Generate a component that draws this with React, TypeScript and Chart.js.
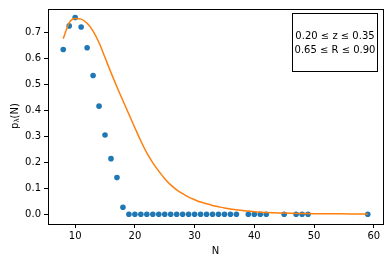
import React, { useEffect, useRef } from "react";
import { Chart, registerables } from "chart.js";

Chart.register(...registerables);

const pointN = [8, 9, 10, 11, 12, 13, 14, 15, 16, 17, 18, 19, 20, 21, 22, 23, 24, 25, 26, 27, 28, 29, 30, 31, 32, 33, 34, 35, 36, 37, 39, 40, 41, 42, 45, 47, 48, 49, 59];
const pointP = [0.634, 0.725, 0.757, 0.721, 0.641, 0.534, 0.416, 0.305, 0.214, 0.141, 0.027, 0, 0, 0, 0, 0, 0, 0, 0, 0, 0, 0, 0, 0, 0, 0, 0, 0, 0, 0, 0, 0, 0, 0, 0, 0, 0, 0, 0];

const curveN = [8, 9, 10, 11, 12, 13, 14, 15, 16, 17, 18, 19, 20, 21, 22, 23, 24, 25, 26, 27, 28, 29, 30, 31, 32, 33, 34, 35, 36, 37, 38, 39, 40, 42, 44, 46, 48, 50, 53, 56, 59];
const curveP = [0.676, 0.737, 0.753, 0.751, 0.735, 0.705, 0.660, 0.603, 0.545, 0.490, 0.437, 0.385, 0.333, 0.282, 0.236, 0.198, 0.166, 0.137, 0.113, 0.094, 0.079, 0.066, 0.056, 0.047, 0.040, 0.034, 0.029, 0.024, 0.020, 0.017, 0.014, 0.012, 0.010, 0.007, 0.005, 0.004, 0.003, 0.002, 0.002, 0.001, 0.001];

const xTicks = [10, 20, 30, 40, 50, 60];
const yTicks = [0.0, 0.1, 0.2, 0.3, 0.4, 0.5, 0.6, 0.7];
const boxLines = ["0.20 \u2264 z \u2264 0.35", "0.65 \u2264 R \u2264 0.90"];

const FONT = "'DejaVu Sans', sans-serif";

export default function App() {
  const ref = useRef<HTMLCanvasElement>(null);
  useEffect(() => {
    const canvas = ref.current!;
    const frame = {
      id: "frame",
      afterDatasetsDraw(chart: any) {
        const { ctx, chartArea: a } = chart;
        ctx.save();
        ctx.strokeStyle = "#000";
        ctx.lineWidth = 1;
        ctx.strokeRect(Math.round(a.left) + 0.5, Math.round(a.top) + 0.5, Math.round(a.right - a.left), Math.round(a.bottom - a.top));
        // text box
        ctx.fillStyle = "#fff";
        ctx.fillRect(292.5, 13.5, 85, 58);
        ctx.strokeRect(292.5, 13.5, 85, 58);
        ctx.fillStyle = "#000";
        ctx.font = `10px ${FONT}`;
        ctx.textAlign = "center";
        ctx.textBaseline = "middle";
        ctx.fillText(boxLines[0], 335, 36.5);
        ctx.fillText(boxLines[1], 335, 50.5);
        // y title
        ctx.translate(15, 116);
        ctx.rotate(-Math.PI / 2);
        ctx.textAlign = "left";
        ctx.textBaseline = "middle";
        const p = "p";
        const lam = "\u03bb";
        const rest = "(N)";
        ctx.font = `10px ${FONT}`;
        const wp = ctx.measureText(p).width;
        const wr = ctx.measureText(rest).width;
        ctx.font = `7px ${FONT}`;
        const wl = ctx.measureText(lam).width;
        const total = wp + wl + wr;
        const x0 = -total / 2;
        ctx.font = `10px ${FONT}`;
        ctx.fillText(p, x0, 0);
        ctx.font = `7px ${FONT}`;
        ctx.fillText(lam, x0 + wp, 2.5);
        ctx.font = `10px ${FONT}`;
        ctx.fillText(rest, x0 + wp + wl, 0);
        ctx.restore();
      },
    };
    const chart = new Chart(canvas, {
      type: "scatter",
      data: {
        datasets: [
          {
            type: "line",
            data: curveN.map((n, i) => ({ x: n, y: curveP[i] })),
            borderColor: "#ff7f0e",
            borderWidth: 1.5,
            pointRadius: 0,
            fill: false,
            cubicInterpolationMode: "monotone",
          } as any,
          {
            data: pointN.map((n, i) => ({ x: n, y: pointP[i] })),
            backgroundColor: "#1f77b4",
            borderColor: "#1f77b4",
            borderWidth: 0,
            pointRadius: 2.8,
          },
        ],
      },
      plugins: [frame],
      options: {
        responsive: false,
        animation: false,
        events: [],
        layout: { padding: { left: 0, right: 7, top: 6, bottom: 0 } },
        plugins: { legend: { display: false }, tooltip: { enabled: false } },
        scales: {
          x: {
            type: "linear",
            min: 5.45,
            max: 61.55,
            afterBuildTicks: (s: any) => { s.ticks = xTicks.map((v) => ({ value: v })); },
            afterFit: (s: any) => { s.height = 38; },
            ticks: { font: { family: FONT, size: 10 }, color: "#000", padding: 2, maxRotation: 0, callback: (v: any) => String(v) },
            grid: { drawOnChartArea: false, drawTicks: true, tickLength: 4, color: "#000" },
            border: { display: true, color: "#000" },
            title: { display: true, text: "N", font: { family: FONT, size: 10 }, color: "#000", padding: { top: 0, bottom: 5 } },
          },
          y: {
            type: "linear",
            min: -0.0376,
            max: 0.79,
            afterBuildTicks: (s: any) => { s.ticks = yTicks.map((v) => ({ value: v })); },
            afterFit: (s: any) => { s.width = 48; },
            ticks: { font: { family: FONT, size: 10 }, color: "#000", padding: 3, callback: (v: any) => Number(v).toFixed(1) },
            grid: { drawOnChartArea: false, drawTicks: true, tickLength: 4, color: "#000" },
            border: { display: true, color: "#000" },
          },
        },
      },
    });
    return () => chart.destroy();
  }, []);
  return (
    <div style={{ position: "fixed", left: 0, top: 0, width: 390, height: 262, background: "#fff" }}>
      <canvas ref={ref} width={390} height={262} style={{ width: 390, height: 262 }} />
    </div>
  );
}
